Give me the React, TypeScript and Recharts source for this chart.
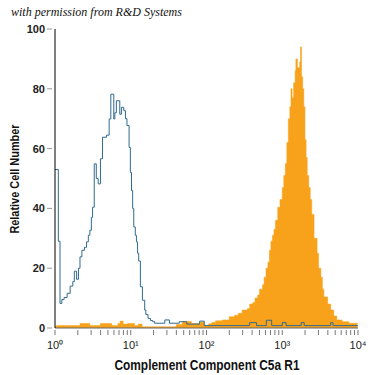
import React from "react"
import { ComposedChart, Area, Line, XAxis, YAxis } from "recharts"

// log10 of fluorescence intensity (bin start) and relative cell count
const isotypeLog = [
    0, 0.044, 0.066, 0.09, 0.12, 0.16, 0.2, 0.235, 0.255, 0.285, 0.31, 0.33,
    0.355, 0.39, 0.417, 0.44, 0.46, 0.48, 0.496, 0.518, 0.545, 0.57, 0.6, 0.627,
    0.68, 0.715, 0.737, 0.776, 0.79, 0.81, 0.855, 0.877, 0.908, 0.93, 0.95,
    0.978, 0.995, 1.01, 1.025, 1.04, 1.06, 1.075, 1.09, 1.105, 1.127, 1.154,
    1.184, 1.2, 1.228, 1.26, 1.29, 1.316, 1.45, 1.51, 1.64, 1.74, 1.91, 1.97,
    2.57, 2.66, 2.79, 2.86, 3.0, 3.05, 3.25, 3.29, 3.64, 3.67, 4
]
const isotypeCount = [
    53, 29, 8.2, 9.5, 10.2, 11.6, 14, 15.5, 19, 16.3, 20, 23.8, 26, 27, 28.8,
    31, 32.7, 37, 40.4, 54.9, 50, 48.2, 56.6, 63.8, 64.5, 69.9, 78.2, 69.9, 72,
    76, 71.5, 73.8, 72.7, 70, 67.7, 60.4, 52, 46, 40, 33.8, 31, 28.8, 25, 22.4,
    13.8, 9.3, 6, 4.5, 3.2, 2.5, 2.1, 1.6, 2.7, 1.6, 2.1, 1.3, 2.3, 0.8, 1.8,
    0.8, 2.6, 0.8, 1.8, 0.8, 1.8, 0.8, 1.8, 0.8, 0.8
]

const c5aLog = [
    0, 0.02, 0.33, 0.46, 0.6, 0.75, 0.83, 0.86, 0.9, 0.96, 1.05, 1.1, 1.15,
    1.6, 1.68, 1.8, 1.92, 1.97, 2.03, 2.07, 2.12, 2.21, 2.3, 2.37, 2.42, 2.47,
    2.54, 2.57, 2.61, 2.64, 2.675, 2.7, 2.74, 2.76, 2.785, 2.81, 2.83, 2.85,
    2.87, 2.89, 2.91, 2.94, 2.97, 3.0, 3.02, 3.04, 3.06, 3.08, 3.1, 3.115, 3.13,
    3.15, 3.17, 3.18, 3.2, 3.23, 3.24, 3.255, 3.27, 3.285, 3.3, 3.315, 3.33,
    3.35, 3.37, 3.39, 3.42, 3.46, 3.48, 3.51, 3.53, 3.55, 3.6, 3.64, 3.68, 3.72,
    3.79, 3.88, 3.99
]
const c5aCount = [
    0.5, 0.8, 1.5, 0.8, 1.5, 0.8, 1.5, 2.3, 1.3, 1.5, 0.8, 1.3, 0.4, 1.2, 2.2,
    1.5, 2, 0.9, 1.4, 1.8, 2.4, 2.7, 3.8, 4.3, 4.9, 6, 6.5, 8, 8.5, 10, 11, 13,
    14.5, 17, 20, 22, 26, 29, 31, 33, 36, 40.4, 43, 47, 51, 55, 62, 70, 74, 80,
    77, 82, 86, 90, 87, 89, 94, 84, 80, 74, 63, 57, 51, 47, 43, 38, 30, 25, 20,
    17, 13, 10.4, 8, 6, 4, 2.7, 2.1, 1.6, 0
]

const yTicks = [0, 20, 40, 60, 80, 100]
const decades = [0, 1, 2, 3]
const supDigits = ["\u2070", "\u00B9", "\u00B2", "\u00B3", "\u2074"]

const isotypeData = isotypeLog.map((x, i) => ({ x, y: isotypeCount[i] }))
const c5aData = c5aLog.map((x, i) => ({ x, y: c5aCount[i] }))

// major + minor ticks on the log axis
const xTicks: number[] = []
decades.forEach(d => {
    for (let k = 1; k < 10; k++) xTicks.push(d + Math.log10(k))
})
xTicks.push(4)

const XTick = (props: any) => {
    const { x, y, payload } = props
    const v = payload.value
    const major = Math.abs(v - Math.round(v)) < 1e-6
    return (
        <g>
            <line x1={x} x2={x} y1={y - 7} y2={y - 2} stroke="#777" strokeWidth={1} />
            {major && (
                <text
                    x={x}
                    y={y + 12}
                    textAnchor="middle"
                    fontSize={11}
                    fill="#222"
                    fontFamily="Liberation Sans, Arial, sans-serif"
                >
                    {"10" + supDigits[Math.round(v)]}
                </text>
            )}
        </g>
    )
}

const YTick = (props: any) => {
    const { x, y, payload } = props
    return (
        <g>
            <line x1={x + 2} x2={x + 7} y1={y} y2={y} stroke="#999" strokeWidth={1} />
            <text
                x={x}
                y={y + 4}
                textAnchor="end"
                fontSize={11}
                fontWeight="bold"
                fill="#222"
                fontFamily="Liberation Sans, Arial, sans-serif"
            >
                {payload.value}
            </text>
        </g>
    )
}

const labelFont = "'Liberation Sans', Arial, sans-serif"

export default function App() {
    return (
        <div style={{ position: "relative", width: 375, height: 375, background: "#fff" }}>
            <style>{`body{margin:0}`}</style>
            <div
                style={{
                    position: "absolute",
                    left: 11,
                    top: 5,
                    fontFamily: "'Liberation Serif', 'DejaVu Serif', serif",
                    fontStyle: "italic",
                    fontSize: 12,
                    color: "#111",
                    whiteSpace: "nowrap"
                }}
            >
                with permission from R&amp;D Systems
            </div>
            <ComposedChart
                width={375}
                height={375}
                margin={{ top: 29, right: 17, bottom: 17, left: 10 }}
            >
                <XAxis
                    dataKey="x"
                    type="number"
                    domain={[0, 4]}
                    ticks={xTicks}
                    interval={0}
                    height={30}
                    tickLine={false}
                    tickSize={7}
                    tickMargin={2}
                    tick={<XTick />}
                    axisLine={{ stroke: "#666" }}
                    allowDataOverflow
                />
                <YAxis
                    type="number"
                    domain={[0, 100]}
                    ticks={yTicks}
                    width={45}
                    tickLine={false}
                    tickSize={0}
                    tickMargin={10}
                    tick={<YTick />}
                    axisLine={{ stroke: "#000" }}
                    allowDataOverflow
                />
                <Area
                    data={c5aData}
                    dataKey="y"
                    type="stepAfter"
                    fill="#f8a21c"
                    fillOpacity={1}
                    stroke="#f8a21c"
                    strokeWidth={0.5}
                    isAnimationActive={false}
                />
                <Line
                    data={isotypeData}
                    dataKey="y"
                    type="stepAfter"
                    stroke="#2f6b92"
                    strokeWidth={1}
                    dot={false}
                    isAnimationActive={false}
                />
            </ComposedChart>
            <div
                style={{
                    position: "absolute",
                    left: 14,
                    top: 179,
                    transform: "translate(-50%, -50%) rotate(-90deg) scaleX(0.84)",
                    fontFamily: labelFont,
                    fontWeight: "bold",
                    fontSize: 13,
                    color: "#111",
                    whiteSpace: "nowrap"
                }}
            >
                Relative Cell Number
            </div>
            <div
                style={{
                    position: "absolute",
                    left: 207,
                    top: 365,
                    transform: "translate(-50%, -50%) scaleX(0.85)",
                    fontFamily: labelFont,
                    fontWeight: "bold",
                    fontSize: 14,
                    color: "#111",
                    whiteSpace: "nowrap"
                }}
            >
                Complement Component C5a R1
            </div>
        </div>
    )
}
